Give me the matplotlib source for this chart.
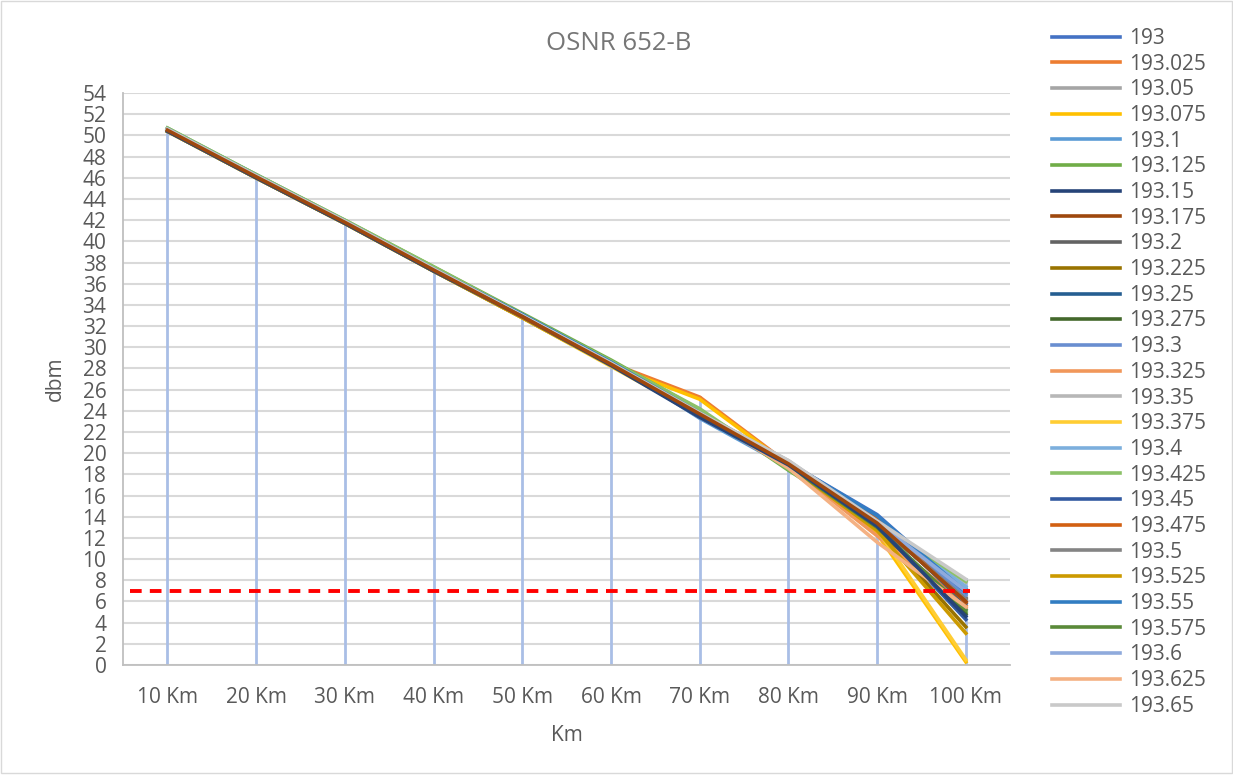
import matplotlib.pyplot as plt
from matplotlib.patches import Rectangle

# DATA
distances = ["10 Km", "20 Km", "30 Km", "40 Km", "50 Km",
             "60 Km", "70 Km", "80 Km", "90 Km", "100 Km"]
channels = ["193", "193.025", "193.05", "193.075", "193.1", "193.125", "193.15",
            "193.175", "193.2", "193.225", "193.25", "193.275", "193.3", "193.325",
            "193.35", "193.375", "193.4", "193.425", "193.45", "193.475", "193.5",
            "193.525", "193.55", "193.575", "193.6", "193.625", "193.65"]
osnr = [
    [50.6, 46.2, 41.9, 37.4, 33.1, 28.6, 23.8, 19.1, 14.2, 6.8],
    [50.5, 46.1, 41.8, 37.3, 32.9, 28.5, 25.3, 19.0, 12.6, 5.6],
    [50.6, 46.2, 41.9, 37.4, 33.0, 28.5, 23.9, 19.2, 13.4, 6.4],
    [50.4, 46.0, 41.7, 37.2, 32.8, 28.3, 25.1, 18.9, 12.4, 0.3],
    [50.6, 46.3, 41.9, 37.5, 33.1, 28.7, 23.3, 18.7, 13.3, 7.2],
    [50.7, 46.3, 42.0, 37.6, 33.2, 28.8, 24.1, 18.4, 13.0, 5.0],
    [50.4, 46.0, 41.7, 37.2, 32.9, 28.3, 23.4, 18.9, 13.1, 4.6],
    [50.5, 46.1, 41.8, 37.3, 32.9, 28.4, 23.7, 19.0, 13.4, 6.0],
    [50.5, 46.1, 41.8, 37.3, 32.9, 28.4, 23.6, 19.1, 13.2, 6.3],
    [50.4, 46.0, 41.7, 37.2, 32.8, 28.3, 23.6, 18.9, 12.9, 3.6],
    [50.5, 46.1, 41.8, 37.3, 33.0, 28.5, 23.5, 19.0, 13.6, 5.8],
    [50.5, 46.1, 41.8, 37.3, 32.9, 28.4, 23.7, 18.8, 13.1, 4.8],
    [50.6, 46.2, 41.9, 37.4, 33.0, 28.5, 23.4, 19.1, 13.7, 6.6],
    [50.5, 46.1, 41.8, 37.3, 32.9, 28.4, 23.6, 18.8, 12.2, 5.4],
    [50.6, 46.2, 41.9, 37.4, 33.0, 28.5, 23.8, 19.3, 13.5, 7.8],
    [50.4, 46.0, 41.7, 37.2, 32.8, 28.2, 23.6, 18.9, 12.8, 0.5],
    [50.6, 46.2, 41.9, 37.4, 33.0, 28.6, 23.5, 19.0, 13.6, 7.4],
    [50.7, 46.3, 42.0, 37.6, 33.1, 28.7, 24.2, 18.5, 13.5, 7.9],
    [50.5, 46.1, 41.8, 37.3, 32.9, 28.4, 23.5, 18.9, 13.2, 4.3],
    [50.5, 46.1, 41.8, 37.3, 32.9, 28.4, 23.7, 18.9, 13.8, 5.9],
    [50.5, 46.1, 41.8, 37.3, 32.9, 28.4, 23.6, 19.1, 13.3, 6.2],
    [50.4, 46.0, 41.7, 37.2, 32.8, 28.3, 23.6, 18.8, 12.7, 3.0],
    [50.6, 46.2, 41.9, 37.4, 33.1, 28.6, 23.8, 19.1, 14.1, 6.9],
    [50.5, 46.1, 41.8, 37.3, 32.9, 28.4, 23.6, 18.8, 13.0, 5.2],
    [50.6, 46.2, 41.9, 37.4, 33.0, 28.5, 23.4, 19.0, 13.5, 7.0],
    [50.5, 46.1, 41.8, 37.3, 32.9, 28.4, 23.7, 18.6, 11.6, 5.5],
    [50.6, 46.2, 41.9, 37.4, 33.0, 28.5, 23.8, 19.3, 13.6, 8.1],
]
threshold = 7

colors = ["#4472C4", "#ED7D31", "#A5A5A5", "#FFC000", "#5B9BD5", "#70AD47",
          "#264478", "#9E480E", "#636363", "#997300", "#255E91", "#43682B",
          "#698ED0", "#F1975A", "#B7B7B7", "#FFCD33", "#7CAFDD", "#8CC168",
          "#335AA1", "#D26012", "#848484", "#CC9A00", "#327DC2", "#5A8A39",
          "#8FAADC", "#F4B183", "#C9C9C9"]
# series that sit visibly on top of the bundle in the original
on_top = {"193.15": 5, "193.175": 6}

plt.rcParams['font.family'] = ['Open Sans', 'DejaVu Sans']
txt = "#595959"

fig = plt.figure(figsize=(12.33, 7.76), dpi=100)
fig.patches.append(Rectangle((0.001, 0.004), 0.998, 0.995, transform=fig.transFigure,
                             fill=False, edgecolor="#D9D9D9", linewidth=1))
ax = fig.add_axes([0.0998, 0.143, 0.7195, 0.737])

x = list(range(len(distances)))

# drop lines
for i in x:
    top = max(s[i] for s in osnr)
    ax.plot([i, i], [0, top], color="#A9BEE6", linewidth=2, zorder=2)

for name, vals, c in zip(channels, osnr, colors):
    ax.plot(x, vals, color=c, linewidth=2.6, label=name, zorder=on_top.get(name, 3))

ax.plot([-0.42, 9.05], [threshold, threshold], color="#FF0000", linewidth=2.8,
        linestyle=(0, (3, 2.1)), zorder=7)

ax.set_xlim(-0.5, len(distances) - 0.5)
ax.set_ylim(0, 54)
ax.set_yticks(range(0, 55, 2))
ax.set_xticks(x)
ax.set_xticklabels(distances)
ax.tick_params(axis='both', length=0, labelsize=15, colors=txt)
ax.tick_params(axis='x', pad=16)
ax.tick_params(axis='y', pad=12)
ax.yaxis.grid(True, color="#D9D9D9", linewidth=1.5)
ax.set_axisbelow(True)
for side in ["top", "right"]:
    ax.spines[side].set_visible(False)
ax.spines["left"].set_color("#BFBFBF")
ax.spines["bottom"].set_color("#BFBFBF")
ax.spines["left"].set_linewidth(1.3)
ax.spines["bottom"].set_linewidth(1.3)

ax.set_xlabel("Km", fontsize=15, color=txt, labelpad=12)
ax.set_ylabel("dbm", fontsize=15, color=txt, labelpad=12)
fig.text(0.502, 0.944, "OSNR 652-B", ha="center", va="center", fontsize=18.5, color="#767676")

fig.legend(loc="upper left", bbox_to_anchor=(0.853, 0.964), frameon=False,
           fontsize=15, handlelength=3.27, handletextpad=0.43, labelspacing=0.225,
           labelcolor=txt, borderaxespad=0, borderpad=0)

fig.savefig("out.png", dpi=100)
